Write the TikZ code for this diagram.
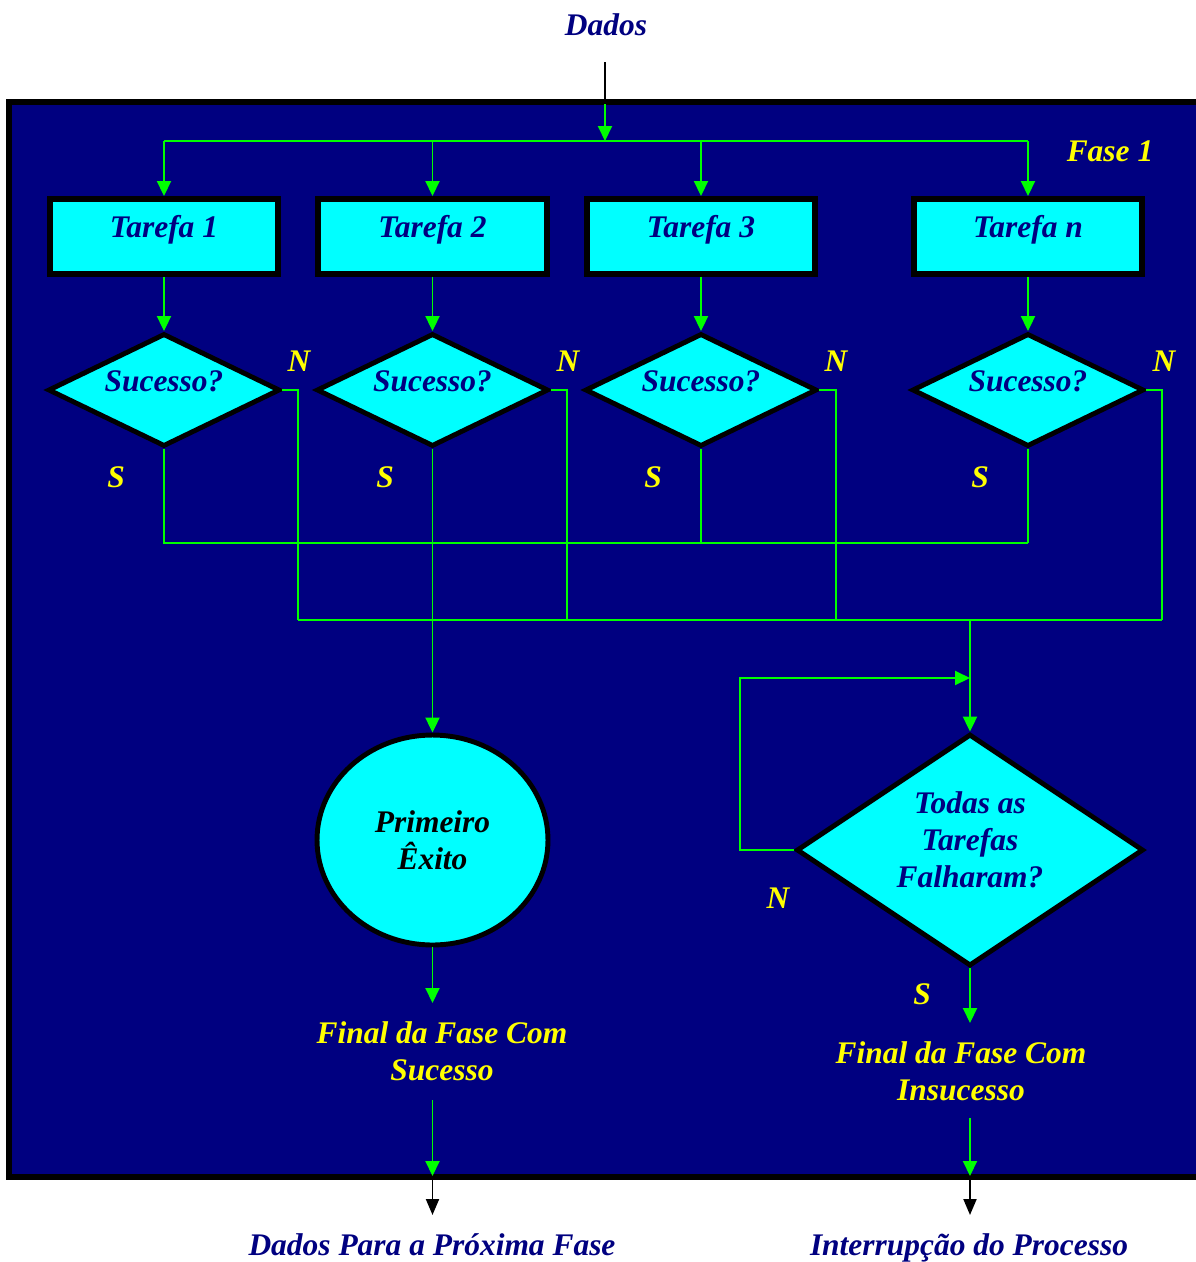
\documentclass[tikz,border=0pt]{standalone}
\usepackage{fontspec}
\setmainfont{Liberation Serif}
\usetikzlibrary{arrows.meta,shapes.geometric,calc}
\definecolor{navy}{RGB}{0,0,128}
\definecolor{cyanbox}{RGB}{0,255,255}
\definecolor{flowgreen}{RGB}{0,255,0}
\definecolor{signal}{RGB}{255,255,0}
\begin{document}
\begin{tikzpicture}[x=0.02cm,y=-0.02cm,
  txt/.style={font=\fontsize{17.9}{21}\selectfont\bfseries\itshape, inner sep=0pt, align=center},
  title/.style={txt, text=navy},
  answer/.style={txt, text=signal},
  taskbox/.style={txt, text=navy, draw=black, fill=cyanbox, line width=3.4pt,
    minimum width=4.58cm, minimum height=1.5cm, text height=0.66em, text depth=0.56em},
  testshape/.style={diamond, draw=black, fill=cyanbox, line width=2.8pt, inner sep=0pt},
  endshape/.style={ellipse, txt, text=black, draw=black, fill=cyanbox, line width=2.8pt,
    minimum width=4.62cm, minimum height=4.2cm},
  flow/.style={draw=flowgreen, line width=1.13pt},
  flowarrow/.style={flow, -{Triangle[length=0.3cm,width=0.28cm]}},
  extline/.style={draw=black, line width=1.13pt},
  extarrow/.style={extline, -{Triangle[length=0.32cm,width=0.26cm]}}
]
\useasboundingbox (0,0) rectangle (1196,1262);
\clip (0,0) rectangle (1196,1262);

% phase frame
\path[draw=black, fill=navy, line width=3.4pt] (9,102) rectangle (1240,1177);
\node[answer, anchor=base] (phase) at (1110,161) {Fase 1};

% input
\node[title, anchor=base] (dados) at (606,35) {Dados};
\coordinate (inTop) at (605,62);
\coordinate (inFrame) at (605,104);
\coordinate (bus) at (605,141);

% tasks
\node[taskbox] (t1) at (164,236.5) {Tarefa 1};
\node[taskbox] (t2) at (432.5,236.5) {Tarefa 2};
\node[taskbox] (t3) at (701,236.5) {Tarefa 3};
\node[taskbox] (tn) at (1028,236.5) {Tarefa n};

% success tests
\foreach \n/\x in {d1/164, d2/432.5, d3/701, dn/1028}{
  \node[testshape, minimum width=4.64cm, minimum height=2.26cm] (\n) at (\x,390) {};
  \node[title, anchor=base] (\n q) at (\x,391) {Sucesso?};
}
\node[answer, anchor=base] (n1l) at (299,371) {N};
\node[answer, anchor=base] (n2l) at (568,371) {N};
\node[answer, anchor=base] (n3l) at (836,371) {N};
\node[answer, anchor=base] (n4l) at (1164,371) {N};
\node[answer, anchor=base] (s1l) at (116,487) {S};
\node[answer, anchor=base] (s2l) at (385,487) {S};
\node[answer, anchor=base] (s3l) at (653,487) {S};
\node[answer, anchor=base] (s4l) at (980,487) {S};

% outcomes
\node[endshape] (first) at (432.5,840) {Primeiro\\Êxito};
\node[testshape, minimum width=6.94cm, minimum height=4.64cm] (dall) at (970,850) {};
\node[title] (dallq) at (970,840) {Todas as\\Tarefas\\Falharam?};
\node[answer, anchor=base] (nall) at (778,908) {N};
\node[answer, anchor=base] (sall) at (922,1004) {S};

\node[answer] (win) at (442,1051) {Final da Fase Com\\Sucesso};
\node[answer] (fail) at (961,1071) {Final da Fase Com\\Insucesso};
\node[title, anchor=base] (next) at (432,1255) {Dados Para a Próxima Fase};
\node[title, anchor=base] (stop) at (969,1255) {Interrupção do Processo};

% connector points
\coordinate (sbus) at (0,543);
\coordinate (b1) at (298,620);
\coordinate (b2) at (567,620);
\coordinate (b3) at (836,620);
\coordinate (b4) at (1162,620);
\coordinate (bmid) at (970,620);
\coordinate (loopTop) at (740,678);
\coordinate (loopEnd) at (970,678);
\coordinate (winTop) at (432.5,1003);
\coordinate (winBot) at (432.5,1100);
\coordinate (winExit) at (432.5,1176);
\coordinate (winOut) at (432.5,1180);
\coordinate (winEnd) at (432.5,1215);
\coordinate (failTop) at (970,1023);
\coordinate (failBot) at (970,1118);
\coordinate (failExit) at (970,1176);
\coordinate (failOut) at (970,1180);
\coordinate (failEnd) at (970,1215);

% input distribution
\draw[extline] (inTop) -- (inFrame);
\draw[flowarrow] (inFrame) -- (bus);
\draw[flow] (t1.north |- bus) -- (tn.north |- bus);
\foreach \t in {t1,t2,t3,tn}{
  \draw[flowarrow] (\t.north |- bus) -- (\t.north);
}
\draw[flowarrow] (t1.south) -- (d1.north);
\draw[flowarrow] (t2.south) -- (d2.north);
\draw[flowarrow] (t3.south) -- (d3.north);
\draw[flowarrow] (tn.south) -- (dn.north);

% "yes" branches
\draw[flow] (d1.south) |- (dn.south |- sbus);
\draw[flow] (d3.south) -- (d3.south |- sbus);
\draw[flow] (dn.south) -- (dn.south |- sbus);
\draw[flowarrow] (d2.south) -- (first.north);

% "no" branches
\draw[flow] (d1.east) -| (b1);
\draw[flow] (d2.east) -| (b2);
\draw[flow] (d3.east) -| (b3);
\draw[flow] (dn.east) -| (b4);
\draw[flow] (b1) -- (b4);
\draw[flowarrow] (bmid) -- (dall.north);
\draw[flowarrow] (dall.west) -| (loopTop) -- (loopEnd);

% phase exits
\draw[flowarrow] (first.south) -- (winTop);
\draw[flowarrow] (winBot) -- (winExit);
\draw[extarrow] (winOut) -- (winEnd);
\draw[flowarrow] (dall.south) -- (failTop);
\draw[flowarrow] (failBot) -- (failExit);
\draw[extarrow] (failOut) -- (failEnd);
\end{tikzpicture}
\end{document}
